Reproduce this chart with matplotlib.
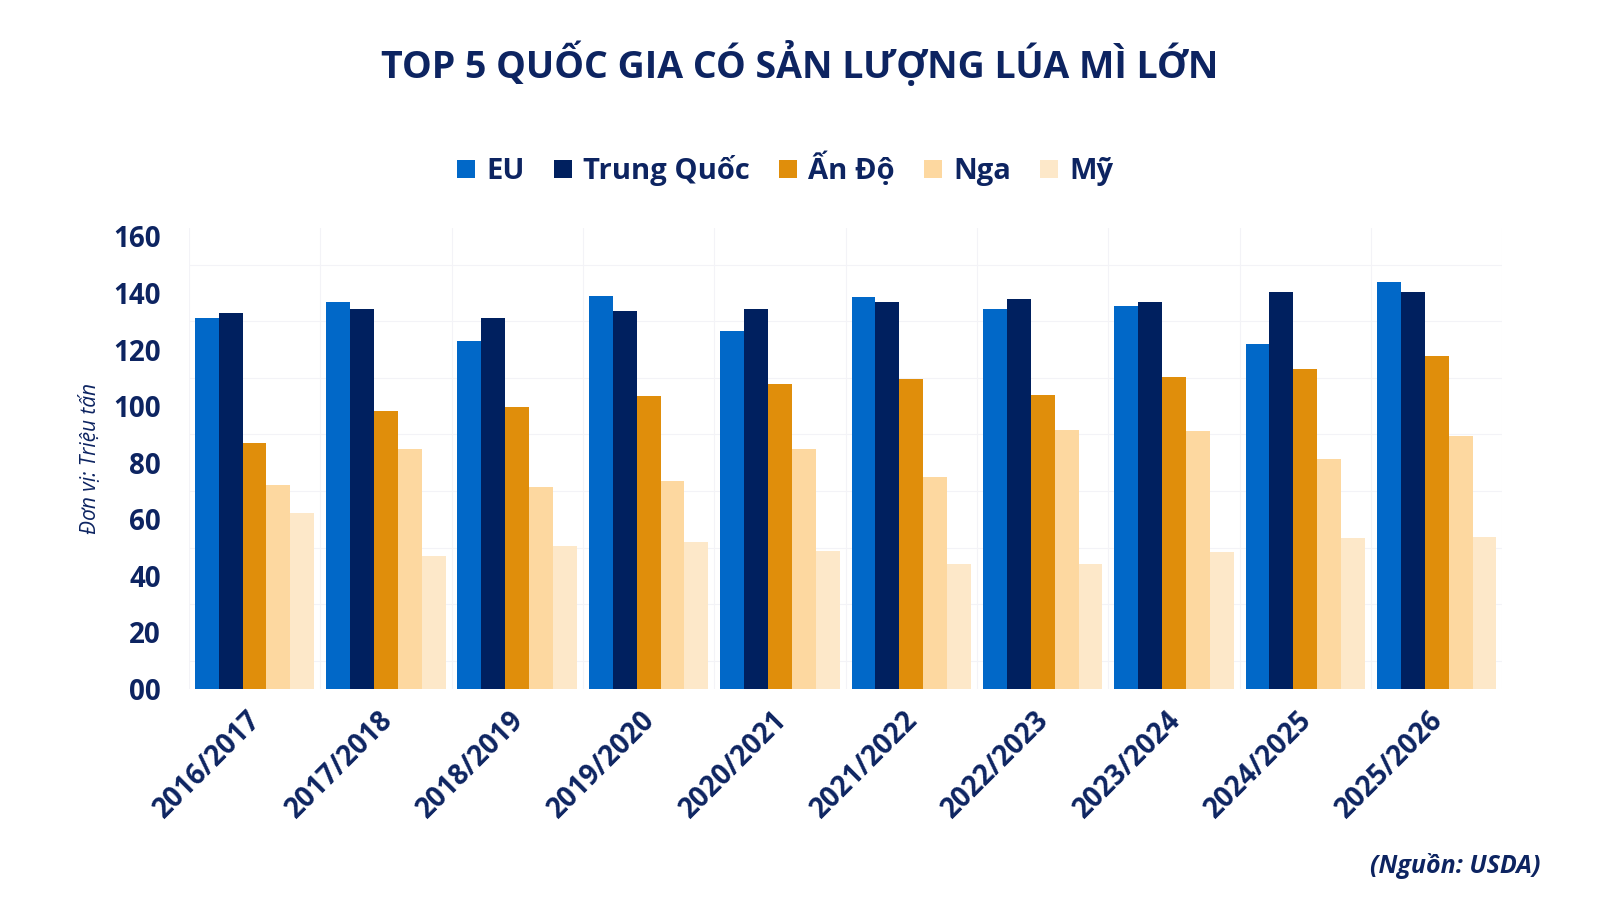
import matplotlib
matplotlib.use("Agg")
import matplotlib.pyplot as plt
import matplotlib.transforms as mtransforms
import numpy as np
from matplotlib.patches import Patch

plt.rcParams['font.family'] = ['Open Sans', 'DejaVu Sans']

seasons = ["2016/2017", "2017/2018", "2018/2019", "2019/2020", "2020/2021",
           "2021/2022", "2022/2023", "2023/2024", "2024/2025", "2025/2026"]
series_names = ["EU", "Trung Quốc", "Ấn Độ", "Nga", "Mỹ"]
eu = [131.0, 136.8, 123.2, 139.0, 126.7, 138.5, 134.5, 135.5, 122.1, 144.0]
trung_quoc = [133.1, 134.3, 131.3, 133.6, 134.3, 136.9, 137.8, 136.8, 140.3, 140.3]
an_do = [86.9, 98.3, 99.8, 103.5, 107.7, 109.5, 103.9, 110.4, 113.2, 117.8]
nga = [72.2, 85.0, 71.3, 73.4, 85.0, 74.8, 91.7, 91.2, 81.3, 89.4]
my = [62.4, 47.2, 50.7, 52.0, 48.9, 44.2, 44.2, 48.6, 53.4, 53.7]
yticks = [0, 20, 40, 60, 80, 100, 120, 140, 160]
ytick_labels = ["00", "20", "40", "60", "80", "100", "120", "140", "160"]

colors = ["#0168c8", "#00205f", "#e08e0b", "#fdd8a0", "#fde8c9"]
text_color = "#0d2461"

fig = plt.figure(figsize=(16, 9), dpi=100)
ax = fig.add_axes([0.118, 0.2344, 0.821, 0.5123])

data = [eu, trung_quoc, an_do, nga, my]
x = np.arange(len(seasons))
bw = 0.182
for i, (vals, c) in enumerate(zip(data, colors)):
    ax.bar(x + (i - 2) * bw, vals, width=bw, color=c, zorder=3, linewidth=0)

ax.set_xlim(-0.5, len(seasons) - 0.5)
ax.set_ylim(0, 163)
ax.set_yticks(yticks)
ax.set_yticklabels(ytick_labels)
ax.set_xticks(x)
ax.set_xticklabels(seasons, rotation=45, ha='right', rotation_mode='anchor')

# faint grid
ax.set_yticks(np.arange(0, 164, 10), minor=True)
ax.set_xticks(np.arange(-0.5, len(seasons), 0.5), minor=True)
ax.grid(which='minor', color='#f3f3f7', linewidth=0.8, zorder=0)
ax.grid(which='major', visible=False)
ax.tick_params(which='minor', length=0)

for s in ax.spines.values():
    s.set_visible(False)
ax.tick_params(axis='both', length=0)
ax.tick_params(axis='y', pad=20)
ax.tick_params(axis='x', pad=12)
for lbl in ax.get_yticklabels() + ax.get_xticklabels():
    lbl.set_fontsize(20)
    lbl.set_fontweight('bold')
    lbl.set_color(text_color)

offset = mtransforms.ScaledTranslation(-8 / 100, 0, fig.dpi_scale_trans)
for lbl in ax.get_xticklabels():
    lbl.set_transform(lbl.get_transform() + offset)

ax.set_ylabel("Đơn vị: Triệu tấn", fontsize=15, style='italic', color=text_color, labelpad=9)

fig.text(0.5, 1 - 64 / 900, "TOP 5 QUỐC GIA CÓ SẢN LƯỢNG LÚA MÌ LỚN", ha='center', va='center',
         fontsize=27, fontweight='bold', color=text_color)

handles = [Patch(facecolor=c, edgecolor='none') for c in colors]
leg = fig.legend(handles, series_names, loc='center', bbox_to_anchor=(0.491, 1 - 169 / 900), ncol=5,
                 frameon=False, fontsize=21, handlelength=0.6, handleheight=0.6,
                 handletextpad=0.4, columnspacing=1.0)
for t in leg.get_texts():
    t.set_fontweight('bold')
    t.set_color(text_color)

fig.text(1540 / 1600, 1 - 866 / 900, "(Nguồn: USDA)", ha='right', va='center', fontsize=18,
         fontweight='bold', style='italic', color=text_color)

fig.savefig("out.png", dpi=100, facecolor='white')
